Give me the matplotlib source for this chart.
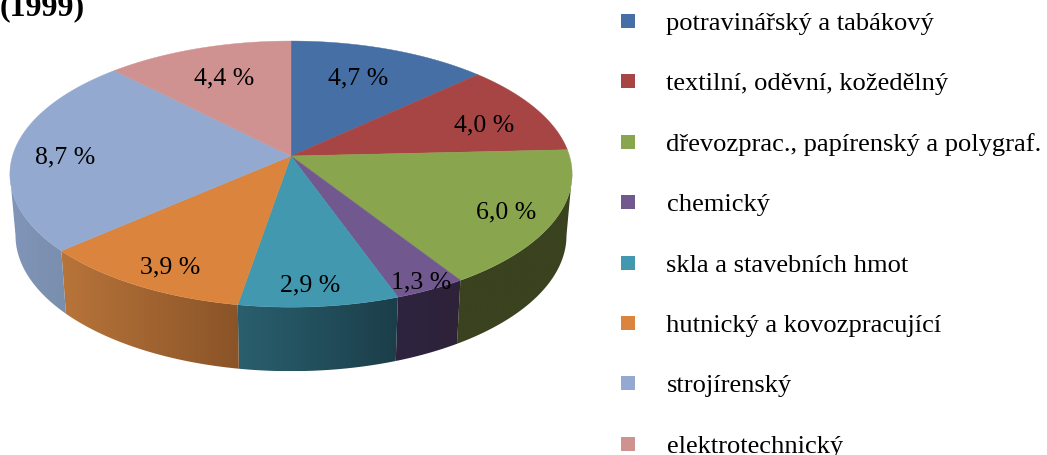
import numpy as np
import matplotlib
matplotlib.use('Agg')
import matplotlib.pyplot as plt
from matplotlib.colors import LinearSegmentedColormap
from matplotlib.patches import Polygon, Rectangle

categories = ['potravinářský a tabákový', 'textilní, oděvní, kožedělný',
              'dřevozprac., papírenský a polygraf.', 'chemický',
              'skla a stavebních hmot', 'hutnický a kovozpracující',
              'strojírenský', 'elektrotechnický']
values = [4.7, 4.0, 6.0, 1.3, 2.9, 3.9, 8.7, 4.4]
title = '(1999)'

colors = ['#466FA5', '#A64543', '#89A54E', '#71588F', '#4198AF', '#DB843D', '#93A9CF', '#D09291']
# side wall shading, left end and right end of every slice
wall_left = ['#2f4a6e', '#6e2e2c', '#3a421f', '#2f2440', '#2a5f6e', '#b8743a', '#8095b8', '#8a6060']
wall_right = ['#2f4a6e', '#6e2e2c', '#3a421f', '#2d2238', '#1b3e49', '#8a5428', '#7a8fad', '#8a6060']
label_pos = [(358, 78.5), (484, 125), (506, 212), (421, 282), (310, 285), (170, 267), (65, 157), (224, 78.5)]

FONT = 'Liberation Serif'
CX, CY = 291, 157   # pie centre in pixels
RX, B, K = 278.5, 130.6, 0.136   # perspective of the top disc
DEPTH, SHRINK_X, SHRINK_Y = 61, 0.98, 1.02


def top_edge(a):
    # a in radians, clockwise from 12 o'clock
    u, v = np.sin(a), np.cos(a)
    w = 1 + K * v
    return CX + RX * u / w, CY - B * v / w


def bottom_edge(a):
    x, y = top_edge(a)
    return CX + (x - CX) * SHRINK_X, CY + (y - CY) * SHRINK_Y + DEPTH


fig = plt.figure(figsize=(10.47, 4.56), dpi=100)
ax = fig.add_axes([0, 0, 1, 1])
ax.set_xlim(0, 1047)
ax.set_ylim(456, 0)
ax.axis('off')

edges = np.deg2rad(np.concatenate([[0], np.cumsum(values)]) / np.sum(values) * 360)
front_start = np.arccos(-K)
front_end = 2 * np.pi - front_start

# side walls
for i in range(len(values)):
    a0, a1 = max(edges[i], front_start), min(edges[i + 1], front_end)
    if a1 <= a0:
        continue
    t = np.linspace(a0, a1, 80)
    xt, yt = top_edge(t)
    xb, yb = bottom_edge(t[::-1])
    pts = np.column_stack([np.concatenate([xt, xb]), np.concatenate([yt, yb])])
    cmap = LinearSegmentedColormap.from_list('w', [wall_left[i], wall_right[i]])
    grad = np.linspace(0, 1, 256).reshape(1, -1)
    im = ax.imshow(grad, cmap=cmap, aspect='auto', zorder=2,
                   extent=[pts[:, 0].min(), pts[:, 0].max(), pts[:, 1].max(), pts[:, 1].min()])
    clip = Polygon(pts, closed=True, transform=ax.transData)
    im.set_clip_path(clip)
ax.set_xlim(0, 1047)
ax.set_ylim(456, 0)

# top disc
for i in range(len(values)):
    t = np.linspace(edges[i], edges[i + 1], 120)
    xt, yt = top_edge(t)
    pts = np.column_stack([np.r_[CX, xt], np.r_[CY, yt]])
    ax.add_patch(Polygon(pts, closed=True, fc=colors[i], ec=colors[i], lw=0.3, zorder=3))

for v, (x, y) in zip(values, label_pos):
    s = f'{v:.1f} %'.replace('.', ',')
    ax.text(x, y, s, family=FONT, fontsize=18.5, color='black', ha='center', va='center', zorder=5)

# legend
for i, name in enumerate(categories):
    y = 22 + i * 60.4
    ax.add_patch(Rectangle((621, y - 7), 14, 14, fc=colors[i], ec='none', zorder=3))
    ax.text(666.5, y + 8, name, family=FONT, fontsize=19.05, color='black', ha='left', va='baseline',
            clip_on=False, zorder=5)

ax.text(0, 15, title, family=FONT, fontsize=23, fontweight='bold', color='black', ha='left', va='baseline')

fig.savefig('out.png', dpi=100)
